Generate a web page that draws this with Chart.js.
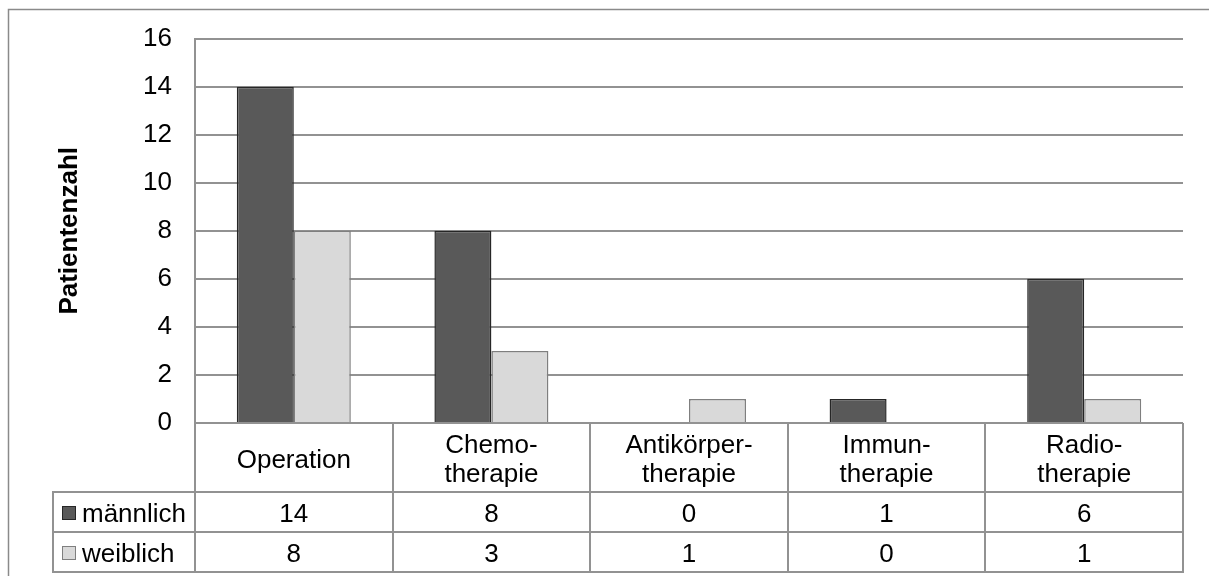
<!DOCTYPE html>
<html lang="de">
<head>
<meta charset="utf-8">
<title>Patientenzahl nach Therapieform und Geschlecht</title>
<script src="https://cdn.jsdelivr.net/npm/chart.js@4.4.1/dist/chart.umd.min.js"></script>
<style>
  html, body { margin: 0; padding: 0; background: #ffffff; }
  #wrap { width: 1209px; height: 576px; }
</style>
</head>
<body>
<div id="wrap"><canvas id="c" width="1209" height="576"></canvas></div>
<script>
// Therapy categories (multi-line labels are hyphenated like the printed table)
const categories = ['Operation', ['Chemo-', 'therapie'], ['Antikörper-', 'therapie'], ['Immun-', 'therapie'], ['Radio-', 'therapie']];
const seriesNames = ['männlich', 'weiblich'];
const maleValues = [14, 8, 0, 1, 6];
const femaleValues = [8, 3, 1, 0, 1];
const yMin = 0;
const yMax = 16;
const yStep = 2;
const yTitle = 'Patientenzahl';

const FONT = 'Liberation Sans, Arial, Helvetica, sans-serif';
const FONT_SIZE = 26;
const SERIES_FILL = ['#595959', '#d9d9d9'];
const SERIES_EDGE = ['#262626', '#7f7f7f'];
const GRID = '#929292';
const TABLE_LINE = '#929292';

// Excel-style data table beneath the plot: category header row, then one row per series
const dataTablePlugin = {
  id: 'dataTable',
  afterDraw(chart) {
    const ctx = chart.ctx;
    const area = chart.chartArea;
    const xs = chart.scales.x;
    const n = chart.data.labels.length;
    const colW = (area.right - area.left) / n;
    const headerTop = area.bottom;
    const headerBottom = headerTop + 69;
    const rowH = 40;
    const tableBottom = headerBottom + rowH * chart.data.datasets.length;
    const legendLeft = 53;

    ctx.save();
    // outer frame of the chart object (top and left edges fall inside the page)
    ctx.strokeStyle = '#8a8a8a';
    ctx.lineWidth = 1.5;
    ctx.beginPath();
    ctx.moveTo(8.5, 600); ctx.lineTo(8.5, 9.5); ctx.lineTo(1209, 9.5);
    ctx.stroke();

    // grid of the table
    ctx.strokeStyle = TABLE_LINE;
    ctx.lineWidth = 2;
    ctx.beginPath();
    for (let i = 0; i <= n; i++) {
      const x = Math.round(area.left + i * colW);
      ctx.moveTo(x, headerTop);
      ctx.lineTo(x, tableBottom + 1);
    }
    ctx.moveTo(area.left, headerTop); ctx.lineTo(area.right, headerTop);
    for (let r = 0; r <= chart.data.datasets.length; r++) {
      const y = headerBottom + r * rowH;
      ctx.moveTo(legendLeft - 1, y); ctx.lineTo(area.right + 1, y);
    }
    ctx.moveTo(legendLeft, headerBottom); ctx.lineTo(legendLeft, tableBottom + 1);
    ctx.stroke();

    ctx.fillStyle = '#000000';
    ctx.font = FONT_SIZE + 'px ' + FONT;
    ctx.textAlign = 'center';
    ctx.textBaseline = 'alphabetic';
    const capHalf = FONT_SIZE * 0.358;
    const lineGap = 29;

    // category headers
    chart.data.labels.forEach((lab, i) => {
      const cx = xs.getPixelForValue(i);
      const lines = Array.isArray(lab) ? lab : [lab];
      const midY = (headerTop + headerBottom) / 2 + 1;
      lines.forEach((t, k) => {
        const y = midY + (k - (lines.length - 1) / 2) * lineGap + capHalf;
        ctx.fillText(t, cx, y);
      });
    });

    // series rows: legend key, name, values
    chart.data.datasets.forEach((ds, r) => {
      const rowMid = headerBottom + r * rowH + rowH / 2 + 1;
      ctx.fillStyle = ds.backgroundColor;
      ctx.strokeStyle = ds.borderColor;
      ctx.lineWidth = 1;
      ctx.fillRect(62, rowMid - 7, 14, 14);
      ctx.strokeRect(62.5, rowMid - 6.5, 13, 13);
      ctx.fillStyle = '#000000';
      ctx.textAlign = 'left';
      ctx.fillText(ds.label, 82, rowMid + capHalf);
      ctx.textAlign = 'center';
      ds.data.forEach((v, i) => {
        ctx.fillText(String(v), xs.getPixelForValue(i), rowMid + capHalf);
      });
    });
    ctx.restore();
  }
};

new Chart(document.getElementById('c'), {
  type: 'bar',
  data: {
    labels: categories,
    datasets: [
      { label: seriesNames[0], data: maleValues, backgroundColor: SERIES_FILL[0], borderColor: SERIES_EDGE[0], borderWidth: 1.5 },
      { label: seriesNames[1], data: femaleValues, backgroundColor: SERIES_FILL[1], borderColor: SERIES_EDGE[1], borderWidth: 1.5 }
    ]
  },
  options: {
    responsive: false,
    animation: false,
    devicePixelRatio: 1,
    layout: { padding: { top: 38, right: 26, bottom: 153, left: 0 } },
    datasets: { bar: { categoryPercentage: 0.577, barPercentage: 1.0 } },
    plugins: {
      legend: { display: false },
      tooltip: { enabled: false }
    },
    scales: {
      x: { display: false },
      y: {
        min: yMin,
        max: yMax,
        ticks: { stepSize: yStep, color: '#000000', padding: 23, font: { family: FONT, size: FONT_SIZE } },
        grid: { color: GRID, lineWidth: 2, drawTicks: false },
        border: { display: true, color: GRID, width: 2 },
        title: {
          display: true,
          text: yTitle,
          color: '#000000',
          padding: { top: 54, bottom: 0 },
          font: { family: FONT, size: FONT_SIZE, weight: 'bold', lineHeight: 1.2 }
        },
        afterFit(scale) { scale.width = 195; }
      }
    }
  },
  plugins: [dataTablePlugin]
});
</script>
</body>
</html>
